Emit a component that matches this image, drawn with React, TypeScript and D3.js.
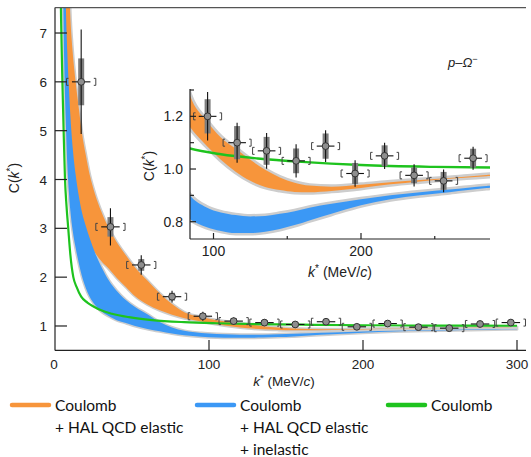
import React from 'react';
import * as d3 from 'd3';

// ---- data points (k* in MeV/c, C(k*)) ----
const pointK = [17, 36, 56, 76, 96, 116, 136, 156, 176, 196, 216, 236, 256, 276, 296];
const pointC = [6.0, 3.03, 2.25, 1.6, 1.2, 1.1, 1.069, 1.031, 1.087, 0.983, 1.05, 0.976, 0.955, 1.041, 1.07];
const statErr = [1.07, 0.38, 0.2, 0.12, 0.092, 0.076, 0.068, 0.063, 0.06, 0.05, 0.05, 0.042, 0.043, 0.044, 0.045];
const sysErr = [0.48, 0.2, 0.12, 0.08, 0.065, 0.063, 0.053, 0.047, 0.048, 0.04, 0.04, 0.03, 0.034, 0.036, 0.035];
const kErr = 6;
const kSys = 9.5;

// ---- theory bands ----
const kGrid = [5, 6, 7, 8, 9, 10, 11.5, 13.4, 15.5, 17.5, 20, 22.5, 26, 30, 35, 40, 46, 52, 60, 68, 76, 84, 95, 105, 115, 125, 135, 145, 155, 165, 180, 200, 220, 240, 260, 285, 300];
const orangeLo = [10.5, 8.3, 7.0, 6.2, 5.55, 5.05, 4.45, 3.95, 3.5, 3.17, 2.87, 2.68, 2.5, 2.33, 2.17, 1.99, 1.8, 1.61, 1.44, 1.32, 1.23, 1.16, 1.09, 1.035, 0.99, 0.955, 0.932, 0.92, 0.913, 0.912, 0.917, 0.928, 0.942, 0.953, 0.963, 0.973, 0.978];
const orangeHi = [14, 12.5, 10.6, 9.1, 8.1, 7.3, 6.6, 6.0, 5.45, 4.95, 4.5, 4.1, 3.7, 3.35, 3.0, 2.72, 2.45, 2.2, 1.93, 1.67, 1.45, 1.28, 1.185, 1.12, 1.078, 1.035, 0.997, 0.968, 0.948, 0.937, 0.933, 0.94, 0.95, 0.958, 0.966, 0.977, 0.981];
const blueLo = [8.5, 6.4, 5.2, 4.3, 3.75, 3.35, 2.95, 2.6, 2.28, 2.02, 1.78, 1.6, 1.43, 1.3, 1.2, 1.12, 1.06, 1.0, 0.94, 0.89, 0.845, 0.81, 0.78, 0.765, 0.757, 0.757, 0.762, 0.772, 0.787, 0.805, 0.83, 0.862, 0.885, 0.9, 0.912, 0.928, 0.933];
const blueHi = [11, 9.3, 7.6, 6.6, 5.9, 5.3, 4.65, 4.1, 3.65, 3.33, 3.05, 2.8, 2.5, 2.22, 1.93, 1.72, 1.53, 1.39, 1.24, 1.08, 0.97, 0.9, 0.855, 0.835, 0.825, 0.82, 0.822, 0.83, 0.84, 0.853, 0.868, 0.885, 0.9, 0.912, 0.922, 0.936, 0.94];
const greenK = [3.6, 4, 4.8, 5.6, 6.5, 7.5, 8.6, 10, 11.9, 14, 17, 21, 25, 30, 37, 48, 63, 84, 105, 130, 160, 200, 250, 300];
const greenC = [8.0, 7.2, 6.0, 5.0, 4.0, 3.45, 3.0, 2.45, 2.0, 1.8, 1.6, 1.48, 1.4, 1.32, 1.25, 1.18, 1.12, 1.078, 1.056, 1.04, 1.027, 1.015, 1.008, 1.005];

// ---- ticks ----
const mainYTicks = [1, 2, 3, 4, 5, 6, 7];
const mainXTicks = [0, 100, 200, 300];
const insetYMajor = [0.8, 1.0, 1.2];
const insetYMinor = [0.9, 1.1, 1.3];
const insetXMajor = [100, 200];
const insetXMinor = [150, 250];

const legendItems = [
  { color: '#f7953b', lines: ['Coulomb', '+ HAL QCD elastic'] },
  { color: '#3b98f5', lines: ['Coulomb', '+ HAL QCD elastic', '+ inelastic'] },
  { color: '#1ec31e', lines: ['Coulomb'] },
];

const ORANGE = '#f7953b';
const BLUE = '#3b98f5';
const GREEN = '#1ec31e';
const GREYBAND = '#cdcdcd';
const AXFONT = '"Liberation Sans", Arial, sans-serif';

type Sc = d3.ScaleLinear<number, number>;

function Bands({ x, y, clip, edge, lw }: { x: Sc; y: Sc; clip: string; edge: number; lw: number }) {
  const idx = kGrid.map((_, i) => i);
  const area = (lo: number[], hi: number[]) =>
    d3.area<number>()
      .x((i) => x(kGrid[i]))
      .y0((i) => y(lo[i]))
      .y1((i) => y(hi[i]))
      .curve(d3.curveMonotoneX)(idx) || '';
  const gIdx = greenK.map((_, i) => i);
  const gLine = d3.line<number>().x((i) => x(greenK[i])).y((i) => y(greenC[i])).curve(d3.curveMonotoneX)(gIdx) || '';
  const o = area(orangeLo, orangeHi);
  const b = area(blueLo, blueHi);
  return (
    <g clipPath={`url(#${clip})`}>
      <path d={o} fill={GREYBAND} stroke={GREYBAND} strokeWidth={edge} strokeLinejoin="round" />
      <path d={b} fill={GREYBAND} stroke={GREYBAND} strokeWidth={edge} strokeLinejoin="round" />
      <path d={o} fill={ORANGE} />
      <path d={b} fill={BLUE} />
      <path d={gLine} fill="none" stroke={GREEN} strokeWidth={lw} />
    </g>
  );
}

function Points({ x, y, kMin, kMax }: { x: Sc; y: Sc; kMin: number; kMax: number }) {
  return (
    <g>
      {pointK.map((k, i) => {
        if (k < kMin || k > kMax) return null;
        const cx = x(k);
        const cy = y(pointC[i]);
        const bl = x(k - kSys);
        const br = x(k + kSys);
        return (
          <g key={i}>
            <rect x={cx - 3} y={y(pointC[i] + sysErr[i])} width={6} height={y(pointC[i] - sysErr[i]) - y(pointC[i] + sysErr[i])} fill="#7d7d7d" />
            <line x1={cx} x2={cx} y1={y(pointC[i] + statErr[i])} y2={y(pointC[i] - statErr[i])} stroke="#111" strokeWidth={1.1} />
            <line x1={x(k - kErr)} x2={x(k + kErr)} y1={cy} y2={cy} stroke="#111" strokeWidth={1.1} />
            <path d={`M${bl + 2},${cy - 3.5}H${bl}V${cy + 3.5}H${bl + 2}`} fill="none" stroke="#444" strokeWidth={1} />
            <path d={`M${br - 2},${cy - 3.5}H${br}V${cy + 3.5}H${br - 2}`} fill="none" stroke="#444" strokeWidth={1} />
            <circle cx={cx} cy={cy} r={3.4} fill="#8e8e8e" stroke="#333" strokeWidth={1} />
          </g>
        );
      })}
    </g>
  );
}

function CLabel({ tx, ty, size }: { tx: number; ty: number; size: number }) {
  return (
    <text transform={`translate(${tx},${ty}) rotate(-90)`} textAnchor="middle" fontFamily={AXFONT} fontSize={size} fill="#222">
      C(<tspan fontStyle="italic">k</tspan>
      <tspan dy={-5} fontSize={size * 0.72}>*</tspan>
      <tspan dy={5}>)</tspan>
    </text>
  );
}

function KLabel({ cx, by, size }: { cx: number; by: number; size: number }) {
  return (
    <text x={cx} y={by} textAnchor="middle" fontFamily={AXFONT} fontSize={size} fill="#222">
      <tspan fontStyle="italic">k</tspan>
      <tspan dy={-5} fontSize={size * 0.72}>*</tspan>
      <tspan dy={5}> (MeV/</tspan>
      <tspan fontStyle="italic">c</tspan>
      <tspan>)</tspan>
    </text>
  );
}

export default function App() {
  // main panel
  const x = d3.scaleLinear().domain([0, 300]).range([55, 517]);
  const y = d3.scaleLinear().domain([0.5, 7.5]).range([350.4, 8.6]);
  // inset panel
  const xi = d3.scaleLinear().domain([100, 200]).range([213.5, 361]);
  const yi = d3.scaleLinear().domain([0.8, 1.3]).range([221.7, 90]);
  const inX0 = 190, inX1 = 490, inY0 = 89, inY1 = 239;

  return (
    <svg width={531} height={457} style={{ position: 'absolute', left: 0, top: 0, background: '#fff' }}>
      <defs>
        <clipPath id="clipMain">
          <rect x={55} y={8} width={471} height={342} />
        </clipPath>
        <clipPath id="clipInset">
          <rect x={inX0} y={inY0} width={inX1 - inX0} height={inY1 - inY0} />
        </clipPath>
      </defs>

      {/* main panel */}
      <Bands x={x} y={y} clip="clipMain" edge={3} lw={2.2} />
      <g clipPath="url(#clipMain)">
        <Points x={x} y={y} kMin={0} kMax={300} />
      </g>
      <g stroke="#222" strokeWidth={1.2} fill="none">
        <line x1={55} x2={55} y1={7.6} y2={350.4} />
        <line x1={55} x2={526} y1={350.4} y2={350.4} />
        <line x1={55} x2={526} y1={7.6} y2={7.6} stroke="#555" />
        {mainYTicks.map((t) => (
          <line key={t} x1={55} x2={67} y1={y(t)} y2={y(t)} />
        ))}
        {mainXTicks.filter((t) => t > 0).map((t) => (
          <line key={t} x1={x(t)} x2={x(t)} y1={350.4} y2={340} />
        ))}
      </g>
      <g fontFamily={AXFONT} fontSize={13.5} fill="#222">
        {mainYTicks.map((t) => (
          <text key={t} x={47} y={y(t) + 5} textAnchor="end">{t}</text>
        ))}
        {mainXTicks.map((t) => (
          <text key={t} x={x(t) - (t === 0 ? 1 : 0)} y={369} textAnchor="middle">{t}</text>
        ))}
      </g>
      <CLabel tx={19} ty={178} size={14} />
      <KLabel cx={284} by={386} size={13.5} />
      <text x={448} y={67} fontFamily={AXFONT} fontSize={13} fill="#222">
        <tspan fontStyle="italic">p</tspan>–<tspan fontStyle="italic">Ω</tspan>
        <tspan dy={-5} fontSize={9}>−</tspan>
      </text>

      {/* inset */}
      <Bands x={xi} y={yi} clip="clipInset" edge={5} lw={2.4} />
      <g clipPath="url(#clipInset)">
        <Points x={xi} y={yi} kMin={85} kMax={285} />
      </g>
      <g stroke="#222" strokeWidth={1.2} fill="none">
        <line x1={inX0} x2={inX0} y1={inY0} y2={inY1} />
        <line x1={inX0} x2={inX1} y1={inY1} y2={inY1} />
        {insetYMajor.map((t) => (
          <line key={t} x1={inX0} x2={inX0 + 6} y1={yi(t)} y2={yi(t)} />
        ))}
        {insetYMinor.map((t) => (
          <line key={t} x1={inX0} x2={inX0 + 4} y1={yi(t)} y2={yi(t)} />
        ))}
        {insetXMajor.map((t) => (
          <line key={t} x1={xi(t)} x2={xi(t)} y1={inY1} y2={inY1 - 6} />
        ))}
        {insetXMinor.map((t) => (
          <line key={t} x1={xi(t)} x2={xi(t)} y1={inY1} y2={inY1 - 3} />
        ))}
      </g>
      <g fontFamily={AXFONT} fontSize={14} fill="#222">
        {insetYMajor.map((t) => (
          <text key={t} x={183} y={yi(t) + 5} textAnchor="end">{t.toFixed(1)}</text>
        ))}
        {insetXMajor.map((t) => (
          <text key={t} x={xi(t)} y={256} textAnchor="middle">{t}</text>
        ))}
      </g>
      <CLabel tx={154} ty={166} size={14} />
      <KLabel cx={340} by={277} size={14} />

      {/* legend */}
      <g fontFamily='Lato, "Open Sans", sans-serif' fontSize={15.5} fill="#111">
        {legendItems.map((it, i) => {
          const lx = [12, 197, 388][i];
          return (
            <g key={i}>
              <line x1={lx} x2={lx + 37} y1={405} y2={405} stroke={it.color} strokeWidth={4.5} strokeLinecap="round" />
              {it.lines.map((s, j) => (
                <text key={j} x={lx + 43} y={411 + j * 22}>{s}</text>
              ))}
            </g>
          );
        })}
      </g>
    </svg>
  );
}
